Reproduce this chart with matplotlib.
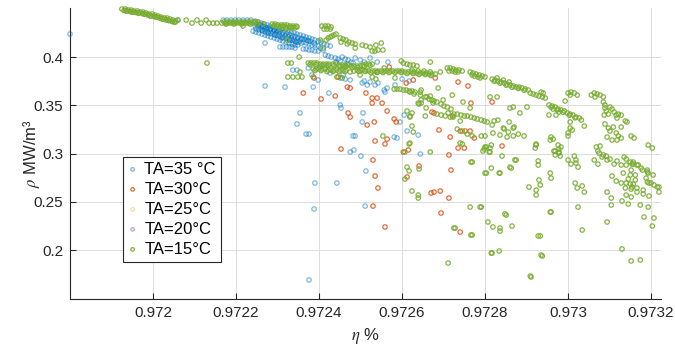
import matplotlib
matplotlib.use("Agg")
import matplotlib.pyplot as plt
from matplotlib.ticker import FixedLocator

plt.rcParams['font.family'] = ['Liberation Sans', 'DejaVu Sans']
plt.rcParams['mathtext.fontset'] = 'stix'

labels = ['TA=35 °C', 'TA=30°C', 'TA=25°C', 'TA=20°C', 'TA=15°C']
colours = ['#0072BD', '#D95319', '#EDB120', '#7E2F8E', '#77AC30']

# TA = 35 C
eta_35 = [0.971800, 0.972169, 0.972178, 0.972188, 0.972198, 0.972207, 0.972217, 0.972227, 0.972236, 0.972036, 0.972060,
          0.972246, 0.972253, 0.972260, 0.972268, 0.972275, 0.972282, 0.972289, 0.972296, 0.972304, 0.972311, 0.972318,
          0.972325, 0.972333, 0.972340, 0.972347, 0.972354, 0.972362, 0.972369, 0.972376, 0.972383, 0.972390, 0.972398,
          0.972405,
          0.972246, 0.972253, 0.972260, 0.972268, 0.972275, 0.972282, 0.972289, 0.972296, 0.972304, 0.972311, 0.972318,
          0.972325, 0.972333, 0.972340, 0.972347, 0.972354, 0.972362, 0.972369, 0.972376, 0.972383, 0.972390,
          0.972241, 0.972248, 0.972255, 0.972263, 0.972270, 0.972277, 0.972284, 0.972292, 0.972299, 0.972306, 0.972313,
          0.972321, 0.972328, 0.972335, 0.972342, 0.972349,
          0.972251, 0.972258, 0.972265, 0.972272, 0.972282, 0.972292, 0.972301, 0.972263, 0.972277, 0.972294, 0.972311,
          0.972330, 0.972345, 0.972359, 0.972374, 0.972388,
          0.972306, 0.972313, 0.972321, 0.972328, 0.972335, 0.972342, 0.972362, 0.972369, 0.972376, 0.972383, 0.972390,
          0.972398, 0.972403, 0.972410,
          0.972412, 0.972419, 0.972427, 0.972398, 0.972415, 0.972422, 0.972429, 0.972439, 0.972446, 0.972456, 0.972463,
          0.972470, 0.972477, 0.972482, 0.972451, 0.972468, 0.972441, 0.972523, 0.972540, 0.972566, 0.972499, 0.972509,
          0.972487,
          0.972270, 0.972270, 0.972318, 0.972386, 0.972337, 0.972347, 0.972374, 0.972383, 0.972427, 0.972458, 0.972475,
          0.972504, 0.972516, 0.972535, 0.972542, 0.972564, 0.972559, 0.972451, 0.972463, 0.972509, 0.972523, 0.972398,
          0.972424, 0.972451, 0.972453, 0.972354, 0.972347, 0.972369, 0.972376, 0.972506, 0.972504, 0.972482, 0.972487,
          0.972475, 0.972484, 0.972501, 0.972513, 0.972511, 0.972557, 0.972605, 0.972595, 0.972581, 0.972588, 0.972612,
          0.972639, 0.972644, 0.972390, 0.972388, 0.972376, 0.972443, 0.972600, 0.972617, 0.972583, 0.972460, 0.972403,
          0.972419,
          # extra rows inside the dense band
          0.972248, 0.972255, 0.972263, 0.972270, 0.972277, 0.972284, 0.972292, 0.972299, 0.972306, 0.972313, 0.972321,
          0.972328, 0.972335, 0.972342, 0.972349, 0.972357, 0.972364, 0.972371, 0.972378,
          0.972248, 0.972255, 0.972263, 0.972270, 0.972277, 0.972284, 0.972292, 0.972299, 0.972306, 0.972313, 0.972321,
          0.972328, 0.972335, 0.972342, 0.972349, 0.972357]
rho_35 = [0.4238, 0.4383, 0.4383, 0.4383, 0.4383, 0.4383, 0.4383, 0.4383, 0.4383, 0.4383, 0.4383,
          0.4373, 0.4363, 0.4352, 0.4342, 0.4332, 0.4321, 0.4311, 0.4301, 0.4290, 0.4290, 0.4269,
          0.4259, 0.4249, 0.4249, 0.4238, 0.4228, 0.4218, 0.4207, 0.4197, 0.4186, 0.4176, 0.4166,
          0.4155,
          0.4321, 0.4311, 0.4301, 0.4290, 0.4280, 0.4269, 0.4259, 0.4249, 0.4238, 0.4228, 0.4218,
          0.4207, 0.4197, 0.4186, 0.4176, 0.4166, 0.4155, 0.4145, 0.4135, 0.4124, 0.4124,
          0.4269, 0.4259, 0.4249, 0.4238, 0.4228, 0.4218, 0.4207, 0.4197, 0.4186, 0.4176, 0.4166,
          0.4155, 0.4145, 0.4135, 0.4124, 0.4124,
          0.4342, 0.4332, 0.4311, 0.4301, 0.4290, 0.4280, 0.4269, 0.4280, 0.4249, 0.4228, 0.4197,
          0.4176, 0.4155, 0.4186, 0.4166, 0.4145,
          0.4104, 0.4104, 0.4104, 0.4104, 0.4104, 0.4093, 0.4083, 0.4083, 0.4073, 0.4073, 0.4062,
          0.4062, 0.4093, 0.4073,
          0.4135, 0.4124, 0.4114, 0.4114, 0.4021, 0.4010, 0.4000, 0.3990, 0.3979, 0.4000, 0.3979,
          0.3969, 0.3948, 0.3938, 0.3959, 0.3927, 0.3948, 0.3990, 0.3948, 0.3948, 0.3969, 0.3948,
          0.3990,
          0.4145, 0.3700, 0.3689, 0.3689, 0.3865, 0.3865, 0.3886, 0.3814, 0.3834, 0.3814, 0.3762,
          0.3731, 0.3710, 0.3710, 0.3731, 0.3679, 0.3637, 0.3783, 0.3772, 0.3751, 0.3741, 0.3762,
          0.3627, 0.3503, 0.3472, 0.3420, 0.3306, 0.3202, 0.3202, 0.3420, 0.3327, 0.3182, 0.3182,
          0.3016, 0.3037, 0.2974, 0.2819, 0.2456, 0.3658, 0.3399, 0.3327, 0.3171, 0.3161, 0.3233,
          0.3192, 0.2995, 0.2695, 0.2425, 0.1690, 0.2695, 0.3772, 0.3751, 0.3710, 0.3907, 0.3896,
          0.3907,
          0.4344, 0.4334, 0.4324, 0.4314, 0.4304, 0.4294, 0.4284, 0.4275, 0.4264, 0.4254, 0.4245,
          0.4234, 0.4225, 0.4214, 0.4204, 0.4195, 0.4184, 0.4175, 0.4165,
          0.4292, 0.4282, 0.4272, 0.4262, 0.4252, 0.4243, 0.4232, 0.4223, 0.4212, 0.4202, 0.4193,
          0.4182, 0.4173, 0.4163, 0.4152, 0.4143]

# TA = 30 C
eta_30 = [0.972362, 0.972405, 0.972439, 0.972388, 0.972446, 0.972468, 0.972475, 0.972470, 0.972475, 0.972513, 0.972528,
          0.972540, 0.972528, 0.972552, 0.972564, 0.972540, 0.972569, 0.972610, 0.972516, 0.972533, 0.972581, 0.972586,
          0.972535, 0.972559, 0.972564, 0.972453, 0.972530, 0.972535, 0.972542, 0.972530, 0.972559, 0.972603, 0.972615,
          0.972612, 0.972641, 0.972670, 0.972677, 0.972692, 0.972694, 0.972689, 0.972672, 0.972677, 0.972713, 0.972713,
          0.972718, 0.972740, 0.972735, 0.972750, 0.972841, 0.972627, 0.972680, 0.972735, 0.972759, 0.972766, 0.972817,
          0.972721, 0.972716, 0.972740, 0.972752, 0.972764, 0.972774]
rho_30 = [0.3627, 0.3565, 0.3596, 0.3783, 0.3793, 0.3689, 0.3679, 0.3420, 0.3378, 0.3627, 0.3575,
          0.3575, 0.3523, 0.3523, 0.3441, 0.3845, 0.3896, 0.3731, 0.3296, 0.3327, 0.3358, 0.3327,
          0.3130, 0.3099, 0.3150, 0.3047, 0.2933, 0.2767, 0.2643, 0.2456, 0.2239, 0.3016, 0.3037,
          0.2757, 0.2871, 0.2591, 0.2601, 0.2612, 0.2384, 0.3244, 0.3430, 0.3420, 0.2539, 0.2985,
          0.2829, 0.2187, 0.3057, 0.3057, 0.3078, 0.3762, 0.3783, 0.3741, 0.3700, 0.3523, 0.3534,
          0.3389, 0.3171, 0.3233, 0.3233, 0.3233, 0.3161]

# TA = 25 C and TA = 20 C: no visible points
eta_25, rho_25 = [], []
eta_20, rho_20 = [], []

# TA = 15 C
eta_15 = [
    # top-left band
    0.971925, 0.971933, 0.971940, 0.971947, 0.971954, 0.971962, 0.971969, 0.971976, 0.971983, 0.971990, 0.971998,
    0.972005, 0.972012, 0.972019, 0.972027, 0.972034, 0.972041, 0.972048, 0.972055,
    0.971935, 0.971949, 0.971964, 0.971978, 0.971993, 0.972007, 0.972022, 0.972036, 0.972051,
    0.971930, 0.971937, 0.971945, 0.971952, 0.971959, 0.971966, 0.971974, 0.971981, 0.971988, 0.971995, 0.972002,
    0.972010, 0.972017, 0.972024, 0.972031, 0.972039, 0.972046, 0.972053,
    0.972060, 0.972080, 0.972094, 0.972106, 0.972116, 0.972128, 0.972135, 0.972145, 0.972154, 0.972217, 0.972130,
    0.972166, 0.972174, 0.972181, 0.972188, 0.972195, 0.972202, 0.972210, 0.972217, 0.972224, 0.972231, 0.972239,
    0.972246, 0.972253, 0.972176, 0.972195, 0.972214, 0.972234, 0.972251,
    0.972171, 0.972178, 0.972186, 0.972193, 0.972200, 0.972207, 0.972215, 0.972222, 0.972229, 0.972236, 0.972243,
    0.972265, 0.972287, 0.972294, 0.972301, 0.972309, 0.972316, 0.972323, 0.972330, 0.972337, 0.972345,
    0.972292, 0.972299, 0.972306, 0.972313, 0.972321, 0.972328, 0.972335, 0.972342,
    0.972306, 0.972321, 0.972335, 0.972347, 0.972323, 0.972352, 0.972325, 0.972333,
    # upper middle
    0.972407, 0.972415, 0.972422, 0.972429, 0.972412, 0.972419, 0.972427, 0.972417, 0.972422, 0.972427, 0.972431,
    0.972436, 0.972441, 0.972451, 0.972458, 0.972465, 0.972472, 0.972480, 0.972487, 0.972453, 0.972468, 0.972403,
    0.972410, 0.972487, 0.972504, 0.972513, 0.972523, 0.972537, 0.972550, 0.972542, 0.972528, 0.972535, 0.972554,
    0.972598, 0.972619, 0.972627, 0.972636, 0.972668, 0.972603, 0.972612,
    # rho ~ 0.393 band
    0.972374, 0.972381, 0.972388, 0.972395, 0.972403, 0.972410, 0.972417, 0.972424, 0.972434, 0.972441, 0.972448,
    0.972456, 0.972463, 0.972470, 0.972477, 0.972484, 0.972492, 0.972499, 0.972506, 0.972513, 0.972520, 0.972528,
    0.972378, 0.972393, 0.972407, 0.972422, 0.972436, 0.972451, 0.972465, 0.972480, 0.972494, 0.972509, 0.972523,
    # rho ~ 0.386 band
    0.972386, 0.972393, 0.972400, 0.972407, 0.972415, 0.972422, 0.972429, 0.972436, 0.972443, 0.972451, 0.972458,
    0.972465, 0.972492, 0.972499, 0.972506, 0.972513, 0.972520, 0.972528, 0.972535, 0.972542, 0.972550, 0.972557,
    0.972564, 0.972571, 0.972578, 0.972586, 0.972593, 0.972600, 0.972607, 0.972615, 0.972622, 0.972629, 0.972636,
    0.972644, 0.972651, 0.972658, 0.972665, 0.972672, 0.972680, 0.972624, 0.972639, 0.972653, 0.972668, 0.972475,
    0.972484,
    0.972390, 0.972405, 0.972419, 0.972434, 0.972448, 0.972463, 0.972496, 0.972511, 0.972525, 0.972540, 0.972554,
    0.972569, 0.972583, 0.972598, 0.972612, 0.972627, 0.972641, 0.972656, 0.972670,
    0.972325, 0.972337, 0.972349, 0.972359, 0.972386, 0.972443, 0.972456, 0.972528, 0.972537, 0.972499, 0.972583,
    0.972557, 0.972354,
    # short streaks to the right
    0.972709, 0.972716, 0.972723, 0.972730, 0.972737, 0.972745, 0.972713, 0.972728, 0.972721, 0.972735,
    0.972764, 0.972771, 0.972778, 0.972786, 0.972793, 0.972800, 0.972774, 0.972788, 0.972769, 0.972783,
    0.972817, 0.972824, 0.972831, 0.972839, 0.972846, 0.972853, 0.972860, 0.972868, 0.972875, 0.972882, 0.972889,
    0.972897, 0.972829, 0.972844, 0.972858,
    0.972822, 0.972836, 0.972851, 0.972865, 0.972880, 0.972894,
    0.972909, 0.972916, 0.972923, 0.972930, 0.972938, 0.972945, 0.972935, 0.972940, 0.972904,
    0.973000, 0.973007, 0.973015, 0.973022, 0.973005,
    0.973056, 0.973063, 0.973070, 0.973077, 0.973085, 0.973065,
    0.972954, 0.972962, 0.972969, 0.972976, 0.972983, 0.972991, 0.972998, 0.973005, 0.973012, 0.973019, 0.973027,
    0.973032, 0.972964, 0.972978,
    0.972959, 0.972974, 0.972988, 0.973003, 0.973017,
    0.973085, 0.973089, 0.973089, 0.973092, 0.973097, 0.973101, 0.973106, 0.973111, 0.973116, 0.973087, 0.973089,
    0.973097, 0.973101, 0.973109, 0.973116, 0.973121, 0.973128, 0.973094, 0.973106, 0.973121, 0.973128, 0.973118,
    0.973138, 0.973142, 0.973128, 0.973152, 0.973159,
    # scattered, right
    0.972954, 0.972971, 0.972993, 0.973005, 0.973010, 0.973039, 0.973000, 0.972957, 0.972964, 0.972978, 0.972969,
    0.972981, 0.972921, 0.972928, 0.972959, 0.972933, 0.972923, 0.973022, 0.973039, 0.973019, 0.973007, 0.973024,
    0.973072, 0.973077, 0.973082, 0.973094, 0.973111, 0.973072, 0.973116, 0.973128, 0.973150, 0.973152, 0.973154,
    0.973169, 0.973179, 0.973191, 0.973205, 0.973162, 0.973145, 0.973162, 0.973138, 0.973152, 0.973166, 0.973181,
    0.973195, 0.973200, 0.973207, 0.973219, 0.973104, 0.973118, 0.973193, 0.973068, 0.972983, 0.973203, 0.973219,
    0.972766, 0.972795, 0.972810, 0.972841, 0.972872, 0.972860, 0.972863, 0.972815, 0.972800, 0.972834, 0.972928,
    0.972957, 0.972930, 0.972906, 0.972923, 0.972764, 0.972788, 0.972848, 0.972807, 0.972819, 0.972836, 0.972836,
    0.972865, 0.972766, 0.972725, 0.972957, 0.972928, 0.972815, 0.972834, 0.972935, 0.972711, 0.972909, 0.972966,
    0.972978, 0.973000, 0.973019, 0.973015, 0.973063, 0.973075, 0.973085, 0.973092, 0.973101, 0.973118, 0.973135,
    0.973140, 0.973157, 0.973157, 0.973166, 0.973176, 0.973191, 0.973193, 0.973140, 0.973133, 0.973150, 0.973106,
    0.973017, 0.973034, 0.973094, 0.973128, 0.973140, 0.973150, 0.973157, 0.973154, 0.973166, 0.973181, 0.973188,
    0.973191, 0.973195, 0.973215, 0.973140, 0.973152, 0.973130, 0.973145, 0.973174, 0.973193, 0.973104, 0.973024,
    0.973094, 0.973183, 0.973207, 0.973203, 0.973034, 0.973130, 0.973152, 0.973174,
    # scattered, middle
    0.972581, 0.972588, 0.972595, 0.972603, 0.972610, 0.972617, 0.972624, 0.972631, 0.972619, 0.972629, 0.972644,
    0.972656, 0.972665, 0.972672, 0.972639, 0.972641, 0.972646, 0.972677, 0.972684, 0.972694, 0.972701, 0.972709,
    0.972718, 0.972725, 0.972733, 0.972742, 0.972750, 0.972757, 0.972766, 0.972774, 0.972781, 0.972791, 0.972798,
    0.972805, 0.972684, 0.972694, 0.972704, 0.972716, 0.972733, 0.972745, 0.972757, 0.972769, 0.972791, 0.972800,
    0.972822, 0.972858, 0.972870, 0.972846, 0.972856, 0.972868, 0.972880, 0.972894, 0.972923, 0.972959, 0.972976,
    0.973000, 0.973005, 0.972612, 0.972619, 0.972624, 0.972617, 0.972554, 0.972656, 0.972658, 0.972646, 0.972646,
    0.972692, 0.972644, 0.972660, 0.972668, 0.972687, 0.972699, 0.972721, 0.972747, 0.972764, 0.972711, 0.972723,
    0.972740, 0.972812, 0.972829, 0.972860, 0.972831, 0.972817, 0.972819, 0.972836, 0.972853, 0.972844, 0.972868,
    0.972884, 0.972868, 0.972901, 0.972740, 0.972812, 0.972800, 0.972619, 0.972627, 0.972619, 0.972624, 0.972668,
    0.972607, 0.972612, 0.972617, 0.972607, 0.972641, 0.972624, 0.972639, 0.972639, 0.972675, 0.972745, 0.972769,
    0.972791, 0.972728, 0.972769, 0.972798, 0.972803, 0.972815, 0.972812, 0.972803, 0.972836, 0.972875, 0.972851,
    0.972817, 0.972959, 0.972933, 0.972938, 0.972911, 0.972923, 0.972978, 0.972969]
rho_15 = [
    0.4497, 0.4497, 0.4487, 0.4487, 0.4477, 0.4477, 0.4466, 0.4466, 0.4456, 0.4446, 0.4446,
    0.4435, 0.4425, 0.4414, 0.4404, 0.4404, 0.4394, 0.4383, 0.4373,
    0.4477, 0.4466, 0.4456, 0.4446, 0.4425, 0.4414, 0.4394, 0.4383, 0.4363,
    0.4482, 0.4477, 0.4471, 0.4466, 0.4461, 0.4456, 0.4451, 0.4443, 0.4435, 0.4428, 0.4420,
    0.4412, 0.4402, 0.4394, 0.4385, 0.4376, 0.4368, 0.4361,
    0.4383, 0.4383, 0.4352, 0.4383, 0.4352, 0.4383, 0.4352, 0.4352, 0.4352, 0.4321, 0.3938,
    0.4352, 0.4352, 0.4352, 0.4352, 0.4352, 0.4352, 0.4352, 0.4352, 0.4352, 0.4352, 0.4352,
    0.4363, 0.4363, 0.4342, 0.4342, 0.4342, 0.4342, 0.4342,
    0.4363, 0.4363, 0.4363, 0.4363, 0.4363, 0.4363, 0.4363, 0.4363, 0.4363, 0.4363, 0.4363,
    0.4342, 0.4342, 0.4342, 0.4332, 0.4332, 0.4332, 0.4332, 0.4321, 0.4321, 0.4321,
    0.4326, 0.4321, 0.4316, 0.4316, 0.4311, 0.4306, 0.4306, 0.4301,
    0.4301, 0.4290, 0.4301, 0.4311, 0.4176, 0.4000, 0.3938, 0.3938,
    0.4321, 0.4321, 0.4321, 0.4311, 0.4290, 0.4290, 0.4290, 0.4176, 0.4197, 0.4207, 0.4217,
    0.4228, 0.4238, 0.4197, 0.4186, 0.4176, 0.4155, 0.4145, 0.4135, 0.4155, 0.4135, 0.4176,
    0.4093, 0.4093, 0.4124, 0.4114, 0.4104, 0.4124, 0.4145, 0.4073, 0.4062, 0.4062, 0.4073,
    0.3959, 0.3917, 0.3917, 0.3907, 0.3948, 0.3938, 0.3927,
    0.3938, 0.3938, 0.3938, 0.3938, 0.3927, 0.3927, 0.3927, 0.3927, 0.3927, 0.3927, 0.3917,
    0.3917, 0.3917, 0.3917, 0.3907, 0.3907, 0.3907, 0.3907, 0.3917, 0.3927, 0.3927, 0.3927,
    0.3922, 0.3922, 0.3912, 0.3912, 0.3912, 0.3902, 0.3902, 0.3891, 0.3891, 0.3902, 0.3912,
    0.3876, 0.3876, 0.3876, 0.3876, 0.3876, 0.3865, 0.3865, 0.3865, 0.3865, 0.3865, 0.3865,
    0.3865, 0.3865, 0.3865, 0.3865, 0.3865, 0.3855, 0.3855, 0.3855, 0.3855, 0.3855, 0.3855,
    0.3855, 0.3855, 0.3855, 0.3855, 0.3855, 0.3855, 0.3845, 0.3845, 0.3845, 0.3845, 0.3834,
    0.3834, 0.3834, 0.3834, 0.3824, 0.3824, 0.3824, 0.3865, 0.3855, 0.3855, 0.3845, 0.3845,
    0.3855,
    0.3860, 0.3860, 0.3850, 0.3850, 0.3850, 0.3850, 0.3850, 0.3850, 0.3839, 0.3839, 0.3839,
    0.3839, 0.3839, 0.3839, 0.3829, 0.3829, 0.3819, 0.3819, 0.3808,
    0.3793, 0.3793, 0.3793, 0.3793, 0.3793, 0.3793, 0.3783, 0.3793, 0.3772, 0.3814, 0.3783,
    0.3886, 0.3845,
    0.3886, 0.3886, 0.3876, 0.3865, 0.3865, 0.3855, 0.3855, 0.3845, 0.3855, 0.3845,
    0.3845, 0.3834, 0.3824, 0.3814, 0.3803, 0.3793, 0.3803, 0.3783, 0.3814, 0.3793,
    0.3772, 0.3762, 0.3751, 0.3741, 0.3731, 0.3720, 0.3710, 0.3700, 0.3689, 0.3689, 0.3679,
    0.3668, 0.3783, 0.3762, 0.3741,
    0.3749, 0.3729, 0.3708, 0.3687, 0.3674, 0.3656,
    0.3627, 0.3617, 0.3606, 0.3596, 0.3586, 0.3575, 0.3637, 0.3627, 0.3658,
    0.3627, 0.3637, 0.3627, 0.3606, 0.3606,
    0.3606, 0.3627, 0.3617, 0.3606, 0.3586, 0.3586,
    0.3503, 0.3492, 0.3482, 0.3461, 0.3451, 0.3441, 0.3420, 0.3409, 0.3399, 0.3378, 0.3368,
    0.3347, 0.3461, 0.3430,
    0.3480, 0.3453, 0.3428, 0.3397, 0.3370,
    0.3534, 0.3503, 0.3472, 0.3441, 0.3409, 0.3482, 0.3461, 0.3430, 0.3399, 0.3399, 0.3306,
    0.3264, 0.3233, 0.3275, 0.3213, 0.3182, 0.3161, 0.3171, 0.3140, 0.3409, 0.3399, 0.3368,
    0.3337, 0.3327, 0.3275, 0.3182, 0.3161,
    0.3399, 0.3399, 0.3544, 0.3327, 0.3244, 0.3285, 0.3182, 0.3140, 0.3150, 0.3047, 0.2985,
    0.2974, 0.3057, 0.2881, 0.2746, 0.2674, 0.2570, 0.2643, 0.2601, 0.2933, 0.2891, 0.2860,
    0.3026, 0.3078, 0.2964, 0.2933, 0.2891, 0.2891, 0.2715, 0.2881, 0.2912, 0.2829, 0.2891,
    0.2881, 0.2829, 0.2809, 0.2778, 0.2778, 0.2736, 0.2726, 0.2643, 0.2632, 0.2601, 0.2581,
    0.2560, 0.2695, 0.2674, 0.2601, 0.2539, 0.3140, 0.3088, 0.3068, 0.3068, 0.3057, 0.2653,
    0.2912, 0.3026, 0.3016, 0.2974, 0.2933, 0.2860, 0.2850, 0.2850, 0.2798, 0.2798, 0.2923,
    0.2798, 0.2726, 0.2653, 0.2622, 0.2446, 0.2446, 0.2374, 0.2291, 0.2239, 0.2228, 0.2197,
    0.2249, 0.2156, 0.2228, 0.2394, 0.2146, 0.1969, 0.1990, 0.1949, 0.1866, 0.1731, 0.3026,
    0.3005, 0.2933, 0.2902, 0.2974, 0.2933, 0.3005, 0.2985, 0.2974, 0.2943, 0.2923, 0.2964,
    0.2943, 0.2912, 0.2891, 0.2881, 0.2850, 0.2829, 0.2798, 0.2881, 0.2798, 0.2778, 0.2767,
    0.2695, 0.2664, 0.2601, 0.2695, 0.2695, 0.2684, 0.2684, 0.2653, 0.2643, 0.2622, 0.2746,
    0.2705, 0.2695, 0.2653, 0.2570, 0.2550, 0.2508, 0.2477, 0.2467, 0.2446, 0.2467, 0.2446,
    0.2291, 0.2342, 0.2332, 0.2249, 0.2208, 0.2011, 0.1887, 0.1897,
    0.3668, 0.3668, 0.3668, 0.3658, 0.3658, 0.3648, 0.3648, 0.3637, 0.3637, 0.3617, 0.3606,
    0.3586, 0.3565, 0.3555, 0.3523, 0.3513, 0.3523, 0.3544, 0.3534, 0.3513, 0.3492, 0.3482,
    0.3461, 0.3409, 0.3409, 0.3399, 0.3389, 0.3389, 0.3378, 0.3368, 0.3358, 0.3347, 0.3337,
    0.3327, 0.3409, 0.3399, 0.3389, 0.3378, 0.3254, 0.3233, 0.3202, 0.3182, 0.3182, 0.3182,
    0.3337, 0.3327, 0.3275, 0.3254, 0.3223, 0.3182, 0.3202, 0.3182, 0.3088, 0.3171, 0.3088,
    0.3213, 0.3264, 0.3441, 0.3389, 0.3285, 0.3099, 0.3182, 0.3389, 0.3472, 0.3555, 0.3658,
    0.3845, 0.3637, 0.3586, 0.3596, 0.3679, 0.3555, 0.3606, 0.3534, 0.3472, 0.3420, 0.3378,
    0.3337, 0.3586, 0.3586, 0.3472, 0.3347, 0.3296, 0.3213, 0.3192, 0.3171, 0.3264, 0.3264,
    0.3420, 0.3482, 0.3482, 0.3109, 0.3057, 0.3068, 0.3109, 0.3223, 0.3378, 0.3420, 0.3016,
    0.3016, 0.2860, 0.2819, 0.2736, 0.2840, 0.2612, 0.2570, 0.2539, 0.3523, 0.3099, 0.2912,
    0.2446, 0.2228, 0.2156, 0.3047, 0.3068, 0.3088, 0.3016, 0.2798, 0.2798, 0.2933, 0.2363,
    0.1969, 0.2394, 0.2146, 0.1938, 0.1721, 0.3099, 0.3016, 0.3026]

series = [(eta_35, rho_35), (eta_30, rho_30), (eta_25, rho_25), (eta_20, rho_20), (eta_15, rho_15)]
alphas = [0.5, 0.85, 0.45, 0.45, 0.9]

fig = plt.figure(figsize=(6.75, 3.48), dpi=100)
ax = fig.add_axes([0.1037, 0.1408, 0.8756, 0.8362])

for (x, y), lab, c, a in zip(series, labels, colours, alphas):
    # empty series stay clipped, otherwise a stray marker shows up at the origin
    ax.scatter(x, y, s=10, facecolors='none', edgecolors=c, linewidths=0.9,
               alpha=a, label=lab, clip_on=(len(x) == 0), zorder=3)

ax.set_xlim(0.9718, 0.973224)
ax.set_ylim(0.1493, 0.4508)
ax.xaxis.set_major_locator(FixedLocator([0.972, 0.9722, 0.9724, 0.9726, 0.9728, 0.973, 0.9732]))
ax.set_xticklabels(['0.972', '0.9722', '0.9724', '0.9726', '0.9728', '0.973', '0.9732'])
ax.yaxis.set_major_locator(FixedLocator([0.2, 0.25, 0.3, 0.35, 0.4]))
ax.set_yticklabels(['0.2', '0.25', '0.3', '0.35', '0.4'])

ax.grid(True, color='#DCDCDC', linewidth=0.7)
ax.set_axisbelow(True)
for side in ['top', 'right']:
    ax.spines[side].set_visible(False)
for side in ['left', 'bottom']:
    ax.spines[side].set_color('#262626')
    ax.spines[side].set_linewidth(0.8)
ax.tick_params(direction='in', length=4, width=0.8, color='#262626',
               labelsize=11, labelcolor='#262626', pad=5)

ax.set_xlabel(r'$\eta$ %', fontsize=12, color='#262626', labelpad=4)
ax.set_ylabel(r'$\rho$ MW/m³', fontsize=12, color='#262626')
ax.yaxis.set_label_coords(-0.047, 0.5)

leg = ax.legend(loc='lower left', bbox_to_anchor=(0.089, 0.128), borderaxespad=0,
                fontsize=12, fancybox=False, edgecolor='#262626', framealpha=1,
                handlelength=0.6, handletextpad=0.4, labelspacing=0.3, borderpad=0.3,
                markerscale=0.8)
leg.get_frame().set_linewidth(0.8)

fig.savefig('out.png', dpi=100)
